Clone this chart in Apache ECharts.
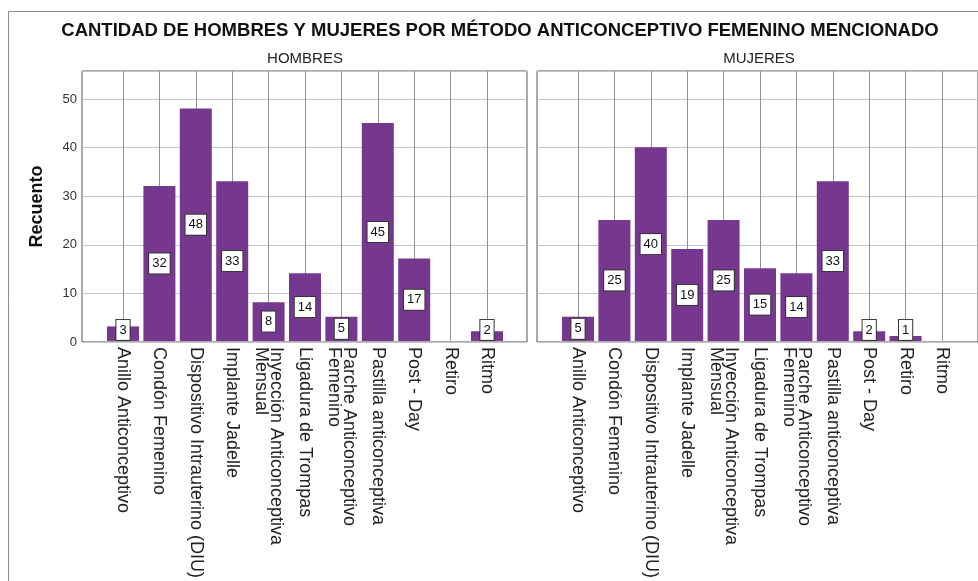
<!DOCTYPE html>
<html>
<head>
<meta charset="utf-8">
<script src="https://cdn.jsdelivr.net/npm/echarts@6/dist/echarts.min.js"></script>
<style>
	html, body { margin: 0; padding: 0; background: #fff; }
	#chart-div { width: 978px; height: 581px; }
</style>
</head>
<body>
<div id="chart-div"></div>
<script>
// categorías (métodos anticonceptivos)
const g_categories = [
	"Anillo Anticonceptivo",
	"Condón Femenino",
	"Dispositivo Intrauterino (DIU)",
	"Implante Jadelle",
	"Inyección Anticonceptiva\nMensual",
	"Ligadura de Trompas",
	"Parche Anticonceptivo\nFemenino",
	"Pastilla anticonceptiva",
	"Post - Day",
	"Retiro",
	"Ritmo"
];
// recuentos por panel
const g_hombres = [3, 32, 48, 33, 8, 14, 5, 45, 17, 0, 2];
const g_mujeres = [5, 25, 40, 19, 25, 15, 14, 33, 2, 1, 0];
const g_panels = ["HOMBRES", "MUJERES"];
const g_title = "CANTIDAD DE HOMBRES Y MUJERES POR MÉTODO ANTICONCEPTIVO FEMENINO MENCIONADO";
const g_y_max = 55.75;
const g_y_interval = 10;

const FONT = "'Liberation Sans', Arial, sans-serif";
const BAR_COLOR = "#76388e";

// barras con valor 0 no llevan etiqueta; barras bajas la llevan apoyada en el eje
const bar_data = arr => arr.map(v => {
	if (v === 0)
		return { value: v, label: { show: false } };
	if (v < 4)
		return { value: v, label: { position: "insideBottom", distance: 1 } };
	return v;
});

const value_y = (grid, labels) => ({
	gridIndex: grid,
	type: "value",
	min: 0,
	max: g_y_max,
	interval: g_y_interval,
	axisLine: { show: false },
	axisTick: { show: false },
	axisLabel: {
		show: labels,
		showMaxLabel: false,
		fontFamily: FONT,
		fontSize: 13,
		color: "#333",
		margin: 5
	},
	splitLine: { show: true, lineStyle: { color: "#c4c4c4", width: 1 } }
});

const cat_x = grid => ({
	gridIndex: grid,
	type: "category",
	data: g_categories,
	boundaryGap: false,
	axisLine: { show: false },
	axisTick: { show: false },
	axisLabel: {
		interval: 0,
		rotate: -90,
		margin: 6,
		fontFamily: FONT,
		fontSize: 18,
		lineHeight: 15,
		color: "#222"
	},
	splitLine: { show: true, lineStyle: { color: "#949494", width: 1 } }
});

const hidden_y = grid => ({
	gridIndex: grid, type: "value", min: 0, max: g_y_max, show: false
});

const bar_series = (axis, data) => ({
	type: "bar",
	xAxisIndex: axis,
	yAxisIndex: axis,
	data: bar_data(data),
	barWidth: 32,
	clip: false,
	itemStyle: { color: BAR_COLOR },
	label: {
		show: true,
		position: "inside",
		fontFamily: FONT,
		fontSize: 13,
		lineHeight: 14,
		color: "#111",
		backgroundColor: "#fff",
		borderColor: "#333",
		borderWidth: 1,
		padding: [3, 3, 3, 3]
	}
});

const outer_grid = left => ({
	left: left, top: 71, width: 445, height: 271,
	show: true, borderColor: "#555", borderWidth: 1,
	backgroundColor: "transparent"
});
const inner_grid = left => ({ left: left, top: 71, width: 364, height: 271 });

const option = {
	animation: false,
	backgroundColor: "#fff",
	grid: [outer_grid(82), inner_grid(123), outer_grid(537), inner_grid(578)],
	xAxis: [
		{ gridIndex: 0, type: "value", show: false },
		cat_x(1),
		{ gridIndex: 2, type: "value", show: false },
		cat_x(3)
	],
	yAxis: [
		Object.assign(value_y(0, true), {
			name: "Recuento",
			nameLocation: "middle",
			nameRotate: 90,
			nameGap: 36,
			nameTextStyle: {
				fontFamily: FONT, fontSize: 18, fontWeight: "bold", color: "#111"
			}
		}),
		hidden_y(1),
		value_y(2, false),
		hidden_y(3)
	],
	series: [bar_series(1, g_hombres), bar_series(3, g_mujeres)],
	graphic: [
		{
			type: "rect", silent: true, z: -1,
			shape: { x: 8.5, y: 11.5, width: 1000, height: 600 },
			style: { fill: "none", stroke: "#8a8a8a", lineWidth: 1 }
		},
		{
			type: "text", x: 500, y: 31,
			style: {
				text: g_title, textAlign: "center", textVerticalAlign: "middle",
				fontFamily: FONT, fontSize: 18.5, fontWeight: "bold", fill: "#111"
			}
		},
		{
			type: "text", x: 305, y: 59,
			style: {
				text: g_panels[0], textAlign: "center", textVerticalAlign: "middle",
				fontFamily: FONT, fontSize: 15, fill: "#222"
			}
		},
		{
			type: "text", x: 759, y: 59,
			style: {
				text: g_panels[1], textAlign: "center", textVerticalAlign: "middle",
				fontFamily: FONT, fontSize: 15, fill: "#222"
			}
		}
	]
};

const chart = echarts.init(document.getElementById("chart-div"), null, { renderer: "canvas" });
chart.setOption(option);
window.addEventListener("resize", chart.resize);
</script>
</body>
</html>
